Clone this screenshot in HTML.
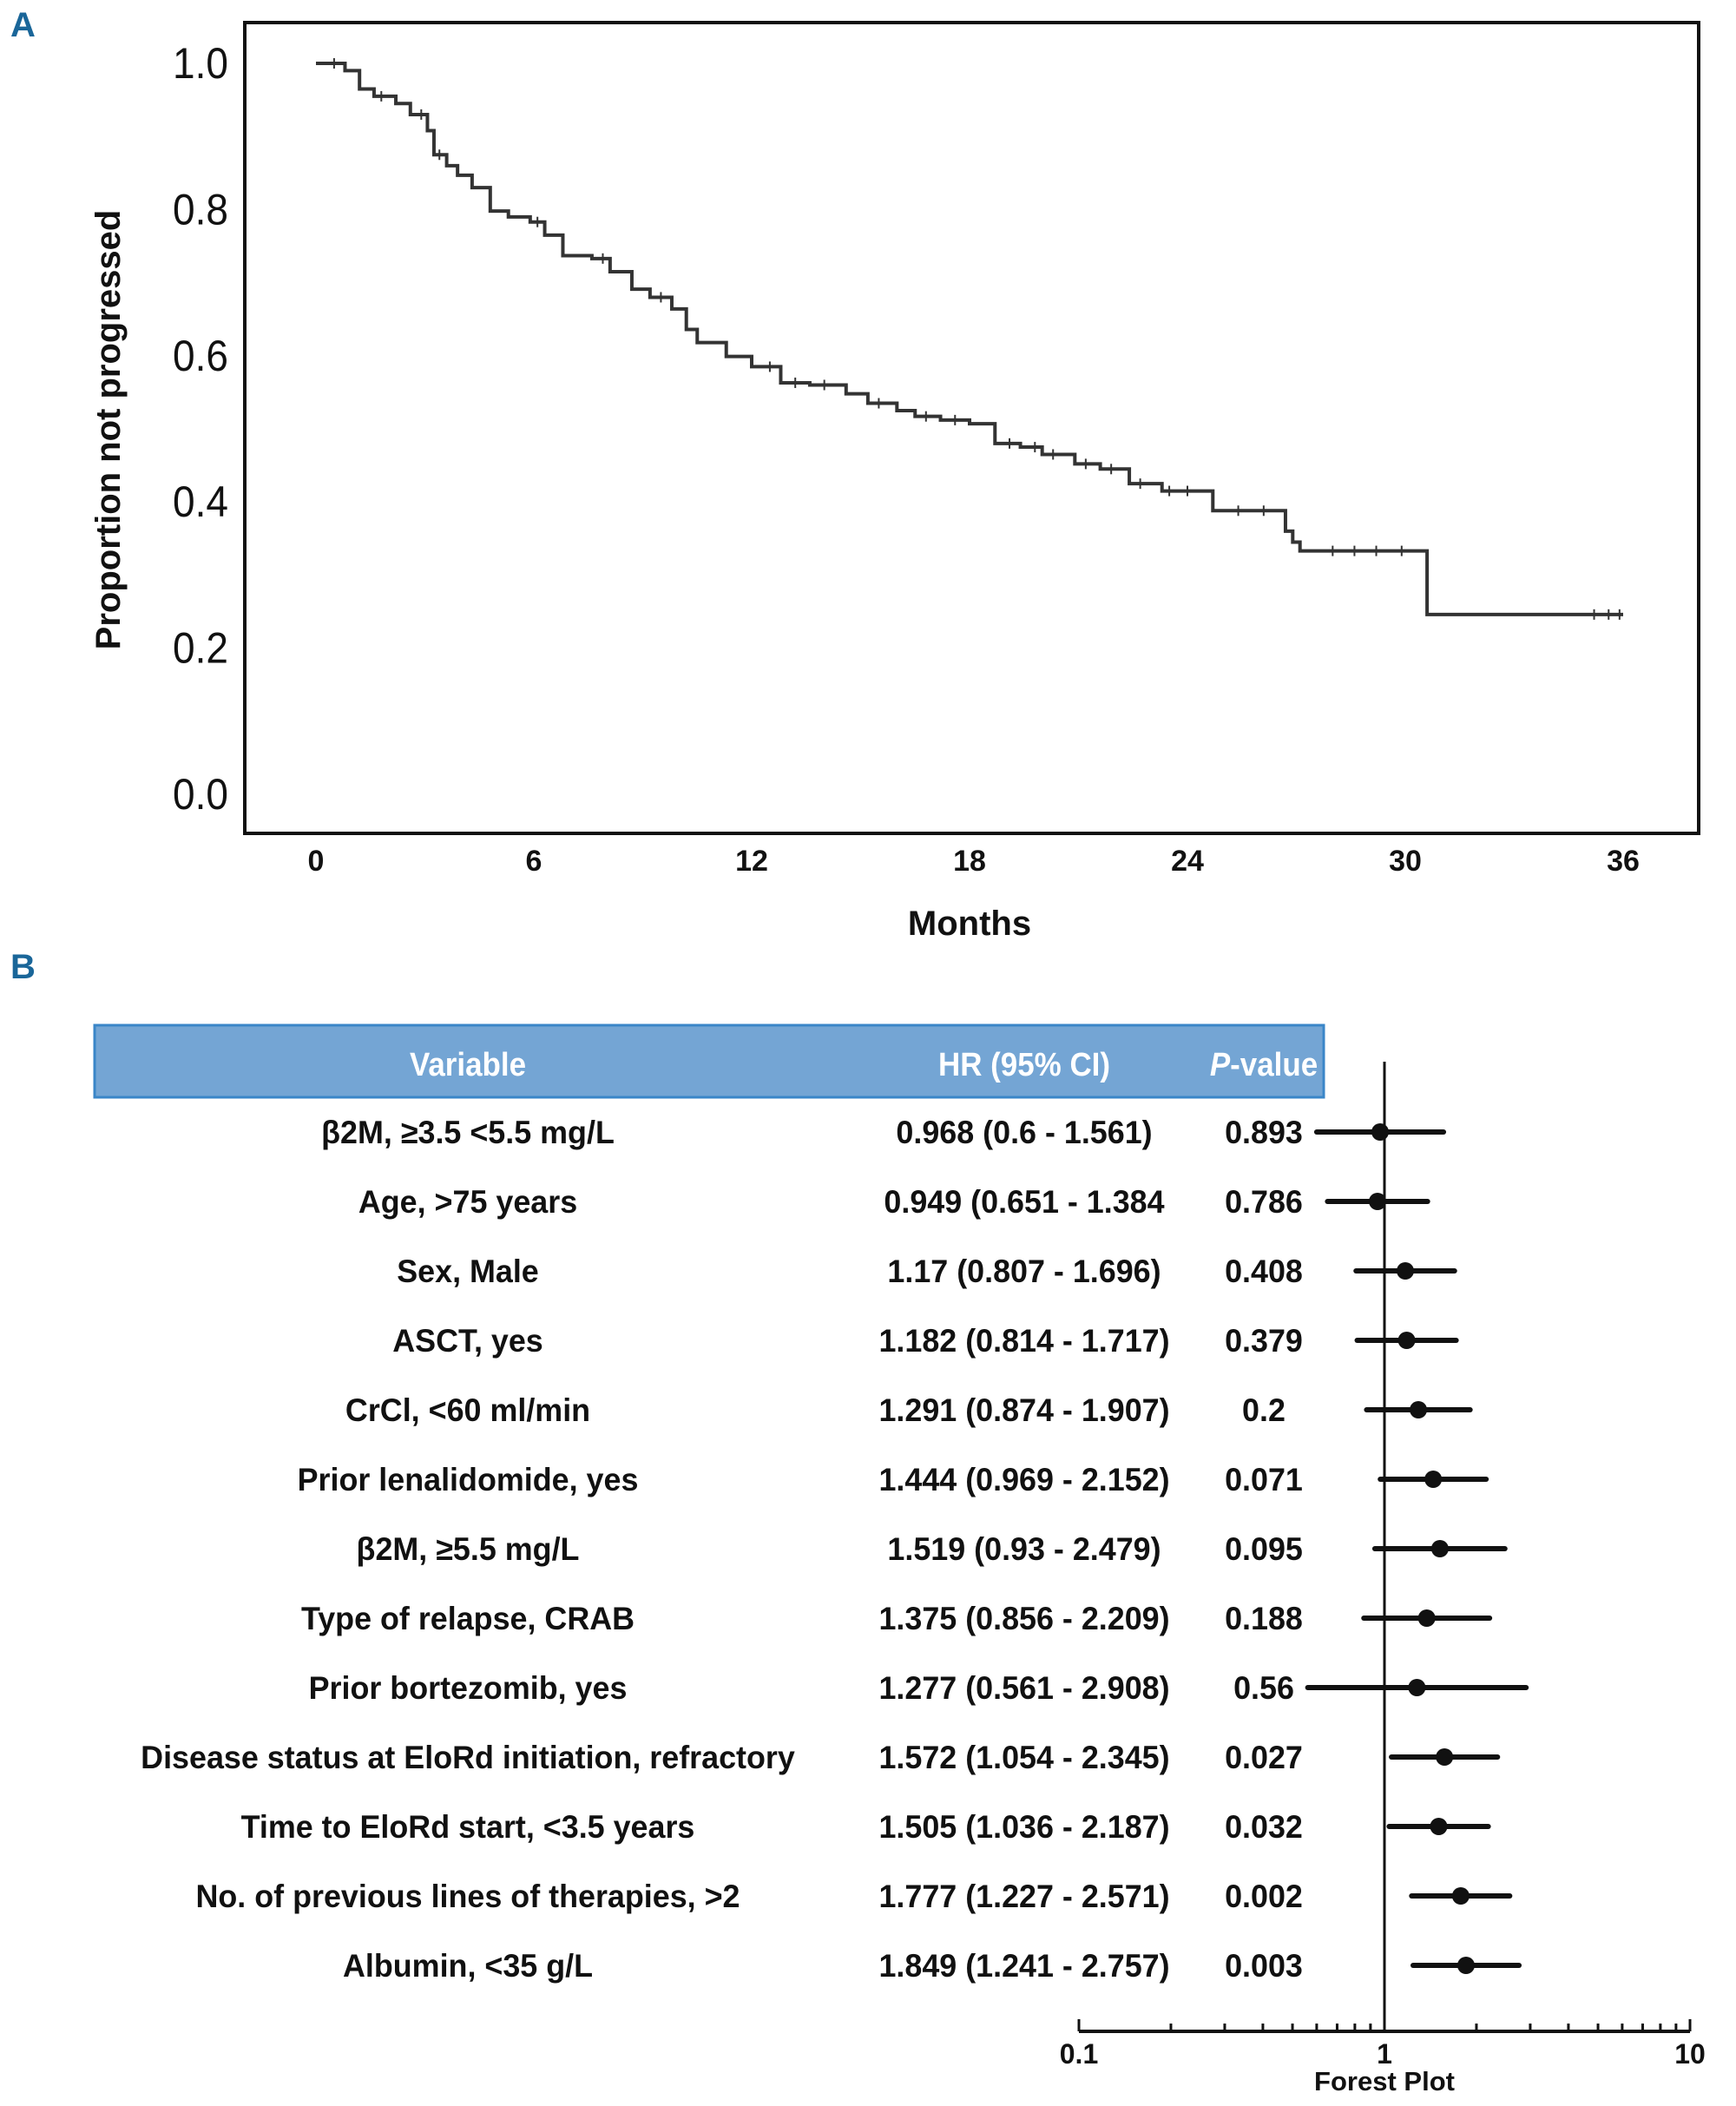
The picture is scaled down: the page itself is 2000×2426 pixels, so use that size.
<!DOCTYPE html>
<html><head><meta charset="utf-8"><style>
html,body{margin:0;padding:0;background:#fff}
svg{display:block}
text{font-family:"Liberation Sans",sans-serif}
</style></head><body>
<svg id="fig" width="2000" height="2426" viewBox="0 0 2000 2426" xmlns="http://www.w3.org/2000/svg">
<text x="12" y="42" font-size="40" font-weight="bold" fill="#1a6699">A</text>
<text x="12" y="1127" font-size="40" font-weight="bold" fill="#1a6699">B</text>
<g id="km"></g>
<g id="forest"></g>
</svg>
<script>
const kmTimes = [0,0.8,1.2,1.6,2.2,2.6,3.07,3.25,3.6,3.9,4.3,4.8,5.3,5.9,6.3,6.8,7.6,8.1,8.7,9.2,9.8,10.2,10.5,11.3,12.0,12.8,13.6,14.6,15.2,16.0,16.5,17.2,18.0,18.7,19.4,20.0,20.9,21.6,22.4,23.3,24.7,26.7,26.9,27.1,30.6,36];
const kmSurv  = [1.0,0.99,0.965,0.955,0.945,0.93,0.908,0.875,0.86,0.847,0.83,0.798,0.79,0.783,0.765,0.737,0.733,0.715,0.691,0.68,0.664,0.636,0.618,0.599,0.585,0.563,0.56,0.548,0.535,0.525,0.517,0.512,0.507,0.48,0.475,0.465,0.452,0.445,0.425,0.415,0.388,0.36,0.345,0.333,0.246,0.246];
const kmCensor = [0.5,1.8,2.9,3.4,6.1,7.9,9.5,12.5,13.2,14.0,15.5,16.8,17.6,19.1,19.8,20.3,21.2,21.9,22.7,23.5,24.0,25.4,26.1,28.0,28.6,29.2,29.9,35.2,35.6,35.9];
const xTicks = [0,6,12,18,24,30,36];
const yTicks = ["0.0","0.2","0.4","0.6","0.8","1.0"];

const variables = ["β2M, ≥3.5 <5.5 mg/L","Age,  >75 years","Sex,  Male","ASCT, yes","CrCl, <60 ml/min","Prior lenalidomide, yes","β2M, ≥5.5 mg/L","Type of relapse, CRAB","Prior bortezomib, yes","Disease status at EloRd initiation, refractory","Time to EloRd start, <3.5 years","No. of previous lines of therapies, >2","Albumin, <35 g/L"];
const hr = [0.968,0.949,1.17,1.182,1.291,1.444,1.519,1.375,1.277,1.572,1.505,1.777,1.849];
const lo = [0.6,0.651,0.807,0.814,0.874,0.969,0.93,0.856,0.561,1.054,1.036,1.227,1.241];
const hi = [1.561,1.384,1.696,1.717,1.907,2.152,2.479,2.209,2.908,2.345,2.187,2.571,2.757];
const hrText = ["0.968 (0.6 - 1.561)","0.949 (0.651 - 1.384","1.17 (0.807 -  1.696)","1.182 (0.814 -  1.717)","1.291 (0.874 - 1.907)","1.444 (0.969 - 2.152)","1.519 (0.93 - 2.479)","1.375 (0.856 - 2.209)","1.277 (0.561 - 2.908)","1.572 (1.054 - 2.345)","1.505 (1.036 - 2.187)","1.777 (1.227 - 2.571)","1.849 (1.241 - 2.757)"];
const pvals = ["0.893","0.786","0.408","0.379","0.2","0.071","0.095","0.188","0.56","0.027","0.032","0.002","0.003"];
const forestTicks = ["0.1","1","10"];

const NS="http://www.w3.org/2000/svg";
function mk(tag, attrs, parent, txt){const e=document.createElementNS(NS,tag);for(const k in attrs)e.setAttribute(k,attrs[k]);if(txt!==undefined)e.textContent=txt;parent.appendChild(e);return e;}

const km=document.getElementById('km');
const X=t=>364+(t/36)*(1870-364);
const Y=s=>915-s*(915-73);
const box=mk('rect',{x:282,y:26,width:1675,height:934,fill:'none',stroke:'#111','stroke-width':4},km);


yTicks.forEach(l=>{const t=mk('text',{x:0,y:0,'font-size':50,'text-anchor':'end',fill:'#111',transform:`translate(263,${Y(+l)+17}) scale(0.92,1)`},km,l);

});
xTicks.forEach(v=>{const t=mk('text',{x:X(v),y:1003,'font-size':34,'font-weight':'bold','text-anchor':'middle',fill:'#111'},km,String(v));

});
const yt=mk('text',{x:0,y:0,'font-size':40,'font-weight':'bold','text-anchor':'middle',fill:'#111',transform:'translate(138,495) rotate(-90)'},km,'Proportion not progressed');


const xt=mk('text',{x:1117,y:1077,'font-size':40,'font-weight':'bold','text-anchor':'middle',fill:'#111'},km,'Months');


let d=`M${X(kmTimes[0])},${Y(kmSurv[0])}`;
for(let i=1;i<kmTimes.length;i++){d+=` H${X(kmTimes[i])} V${Y(kmSurv[i])}`;}
const line=mk('path',{d:d,fill:'none',stroke:'#333','stroke-width':4},km);


function survAt(t){let s=kmSurv[0];for(let i=0;i<kmTimes.length;i++){if(kmTimes[i]<=t)s=kmSurv[i];}return s;}
kmCensor.forEach(t=>{const c=mk('line',{x1:X(t),x2:X(t),y1:Y(survAt(t))-6,y2:Y(survAt(t))+6,stroke:'#333','stroke-width':2},km);

});

const fo=document.getElementById('forest');
const hdr=mk('rect',{x:109,y:1181,width:1416,height:83,fill:'#74a5d4',stroke:'#3a86c8','stroke-width':3},fo);


[["Variable",539,'variable-header'],["HR (95% CI)",1180,'hr-header']].forEach(h=>{const t=mk('text',{x:0,y:0,'font-size':38,'font-weight':'bold','text-anchor':'middle',fill:'#fff',transform:`translate(${h[1]},1239) scale(0.92,1)`},fo,h[0]);

});
const ph=mk('text',{x:0,y:0,'font-size':38,'font-weight':'bold','text-anchor':'middle',fill:'#fff',transform:'translate(1456,1239) scale(0.92,1)'},fo);


mk('tspan',{'font-style':'italic'},ph,'P');mk('tspan',{},ph,'-value');
const FX=v=>1595+Math.log10(v)*352;
const RY=i=>1304+i*80;
const vl=mk('line',{x1:FX(1),x2:FX(1),y1:1223,y2:2340,stroke:'#111','stroke-width':3},fo);


const ax=mk('line',{x1:FX(0.1),x2:FX(10),y1:2340,y2:2340,stroke:'#111','stroke-width':4},fo);


for(let dec=0.1;dec<10;dec*=10){for(let k=1;k<=10;k++){const v=dec*k;const tk=mk('line',{x1:FX(v),x2:FX(v),y1:2340,y2:(k===1||k===10)?2326:2331,stroke:'#111','stroke-width':3},fo);

}}
forestTicks.forEach(l=>{const t=mk('text',{x:FX(+l),y:2377,'font-size':32,'font-weight':'bold','text-anchor':'middle',fill:'#111'},fo,l);

});
const ft=mk('text',{x:FX(1),y:2408,'font-size':31,'font-weight':'bold','text-anchor':'middle',fill:'#111'},fo,'Forest Plot');


variables.forEach((v,i)=>{
 const y=RY(i);
 const a=mk('text',{x:0,y:0,'font-size':37,'font-weight':'bold','text-anchor':'middle',fill:'#111',transform:`translate(539,${y+13}) scale(0.97,1)`},fo,v);
 
 
 const b=mk('text',{x:0,y:0,'font-size':37,'font-weight':'bold','text-anchor':'middle',fill:'#111',transform:`translate(1180,${y+13}) scale(0.97,1)`},fo,hrText[i]);
 
 
 const c=mk('text',{x:0,y:0,'font-size':37,'font-weight':'bold','text-anchor':'middle',fill:'#111',transform:`translate(1456,${y+13}) scale(0.97,1)`},fo,pvals[i]);
 
 
 const ci=mk('line',{x1:FX(lo[i]),x2:FX(hi[i]),y1:y,y2:y,stroke:'#111','stroke-width':6,'stroke-linecap':'round'},fo);
 
 
 const dot=mk('circle',{cx:FX(hr[i]),cy:y,r:10,fill:'#111'},fo);
 
 
});
</script>
</body></html>
